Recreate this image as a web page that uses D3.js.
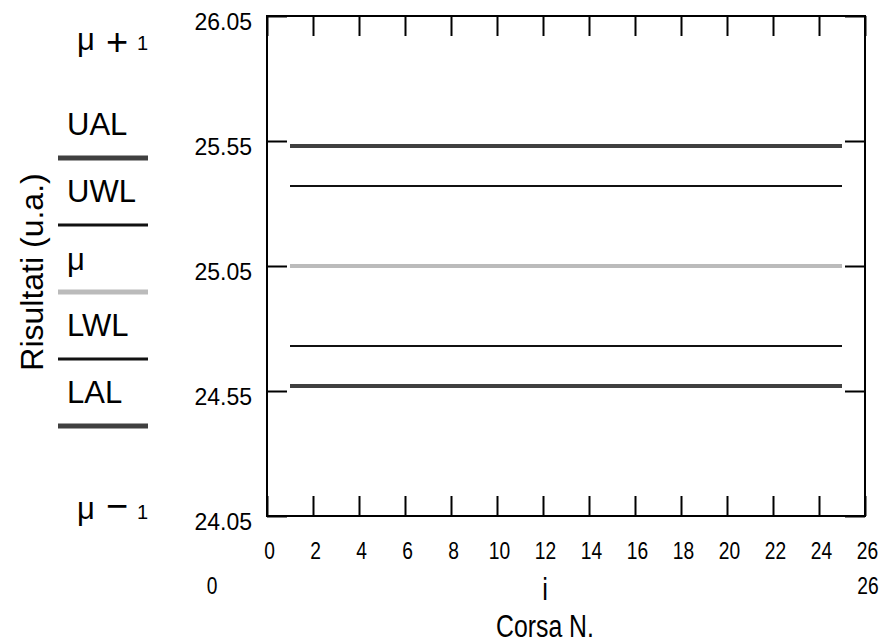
<!DOCTYPE html>
<html>
    <head>
        <title>Carta di controllo</title>
        <script src="https://d3js.org/d3.v7.min.js"></script>
        <style>
         body { margin: 0; background: #fff; }
         svg { display: block; font-family: "Liberation Sans", Arial, sans-serif; }
        </style>
    </head>
    <body>
        <svg width="889" height="643"></svg>
        <script>
         // data
         const runStart = 1, runEnd = 25;
         const limitNames = ["UAL", "UWL", "\u03bc", "LWL", "LAL"];
         const limitValues = [25.53, 25.37, 25.05, 24.73, 24.57];
         const yTicks = [24.05, 24.55, 25.05, 25.55, 26.05];
         const xTicks = [0, 2, 4, 6, 8, 10, 12, 14, 16, 18, 20, 22, 24, 26];

         const limitColor = ["#404040", "#111", "#bbbbbb", "#111", "#404040"];
         const limitWidth = [4, 2, 4, 2, 4];
         const narrow = 0.8; // x-axis texts are drawn condensed

         const svg = d3.select("svg");
         const frame = {left: 267, right: 865, top: 16, bottom: 516};

         const x = d3.scaleLinear().domain([0, 26]).range([frame.left, frame.right]);
         const y = d3.scaleLinear().domain([24.05, 26.05]).range([frame.bottom, frame.top]);

         // frame box
         svg.append("rect")
            .attr("x", frame.left).attr("y", frame.top)
            .attr("width", frame.right - frame.left)
            .attr("height", frame.bottom - frame.top)
            .attr("fill", "none").attr("stroke", "#000").attr("stroke-width", 2);

         // axes, ticks pointing inwards
         const left = svg.append("g")
            .attr("transform", `translate(${frame.left},0)`)
            .call(d3.axisLeft(y).tickValues(yTicks).tickSize(-20).tickPadding(15)
                  .tickFormat(d3.format(".2f")));
         left.selectAll("text").attr("dy", "0.57em").style("font-size", "23px");

         svg.append("g")
            .attr("transform", `translate(${frame.right},0)`)
            .call(d3.axisRight(y).tickValues(yTicks).tickSize(-20).tickFormat(""));

         const bottom = svg.append("g")
            .attr("transform", `translate(0,${frame.bottom})`)
            .call(d3.axisBottom(x).tickValues(xTicks).tickSize(-20).tickPadding(26));
         bottom.selectAll("text").attr("dx", 2 / narrow)
               .attr("transform", `scale(${narrow},1)`)
               .style("font-size", "24px");

         svg.append("g")
            .attr("transform", `translate(0,${frame.top})`)
            .call(d3.axisTop(x).tickValues(xTicks).tickSize(-20).tickFormat(""));

         svg.selectAll(".domain").remove();
         svg.selectAll(".tick line").attr("stroke", "#000").attr("stroke-width", 2);
         svg.selectAll(".tick text").attr("fill", "#000")
            .style("font-family", "'Liberation Sans', Arial, sans-serif");

         // control limit lines
         svg.append("g").selectAll("line")
            .data(limitValues)
            .join("line")
            .attr("x1", x(runStart)).attr("x2", x(runEnd))
            .attr("y1", d => y(d)).attr("y2", d => y(d))
            .attr("stroke", (d, i) => limitColor[i])
            .attr("stroke-width", (d, i) => limitWidth[i]);

         // legend on the left
         const legend = svg.append("g");
         limitNames.forEach((name, i) => {
             const ly = 158 + i * 67;
             legend.append("line")
                   .attr("x1", 58).attr("x2", 148)
                   .attr("y1", ly).attr("y2", ly)
                   .attr("stroke", limitColor[i])
                   .attr("stroke-width", limitWidth[i] + 1);
             legend.append("text")
                   .attr("x", 67).attr("y", ly - (i == 2 ? 22 : 23))
                   .style("font-size", "31px")
                   .text(name);
         });

         // mu +/- 1 labels
         function muLabel(ty, sign, shift) {
             const t = svg.append("text").attr("x", 77).attr("y", ty).style("font-size", "31px");
             t.append("tspan").text("\u03bc");
             t.append("tspan").attr("dx", 11).attr("dy", shift).style("font-size", "38px").text(sign);
             t.append("tspan").attr("dx", 9).attr("dy", -shift).style("font-size", "20px").text("1");
         }
         muLabel(50, "+", 5);
         muLabel(519, "\u2212", 0);

         // axis titles
         svg.append("text")
            .attr("transform", "translate(43,272) rotate(-90)")
            .attr("text-anchor", "middle")
            .style("font-size", "32px")
            .text("Risultati (u.a.)");

         function narrowText(tx, ty, size, label) {
             svg.append("text")
                .attr("transform", `translate(${tx},${ty}) scale(${narrow},1)`)
                .attr("text-anchor", "middle")
                .style("font-size", size + "px")
                .text(label);
         }
         narrowText(212, 594, 24, "0");
         narrowText(868, 594, 24, "26");
         narrowText(545, 600, 32, "i");
         narrowText(545, 637, 31, "Corsa N.");
        </script>
    </body>
</html>
